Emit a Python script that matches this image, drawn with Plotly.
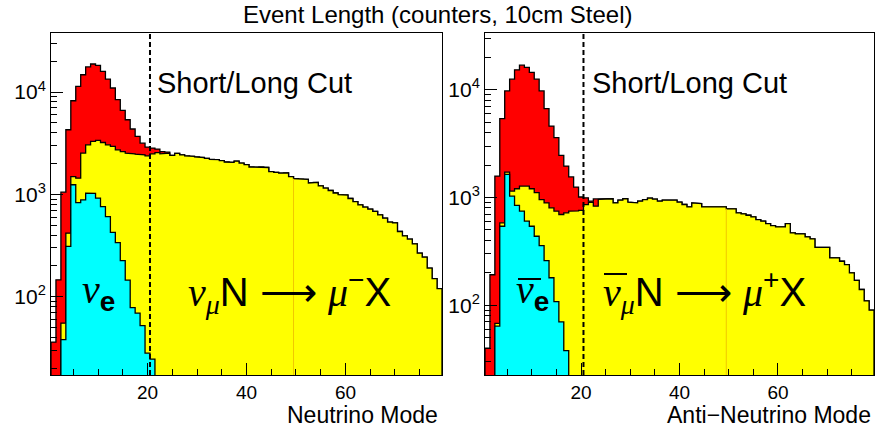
import plotly.graph_objects as go

# ---------------- data ----------------
bins = list(range(1, 80))  # event length in counters (bin centres)

# Neutrino mode
nu_total = [36, 146, 1050, 4280, 8220, 11350, 14760, 17600, 18800, 18200,
            15900, 13400, 10950, 8410, 6610, 5360, 4350, 3680, 3160, 2900,
            2830, 2770, 2620, 2580, 2400, 2510, 2430, 2380, 2350, 2320,
            2290, 2250, 2200, 2180, 2140, 2070, 2050, 2110, 2020, 1950,
            1850, 1840, 1850, 1830, 1670, 1640, 1610, 1620, 1490, 1420,
            1410, 1400, 1290, 1310, 1210, 1150, 1090, 1030, 995, 985,
            910, 850, 790, 750, 716, 680, 630, 585, 535, 525,
            433, 393, 365, 328, 266, 243, 190, 150, 120]
nu_numu = [0, 0, 55, 417, 1490, 1440, 2530, 3050, 3290, 3370,
           3210, 3050, 2940, 2725, 2620, 2530, 2490, 2470, 2430, 2380,
           2490, 2560, 2490, 2530, 2400, 2510, 2430, 2380, 2350, 2320,
           2290, 2250, 2200, 2180, 2140, 2070, 2050, 2110, 2020, 1950,
           1850, 1840, 1850, 1830, 1670, 1640, 1610, 1620, 1490, 1420,
           1410, 1400, 1290, 1310, 1210, 1150, 1090, 1030, 995, 985,
           910, 850, 790, 750, 716, 680, 630, 585, 535, 525,
           433, 393, 365, 328, 266, 243, 190, 150, 120]
nu_nue = [0, 0, 38, 310, 1240, 830, 884, 1028, 1020, 920,
          760, 606, 425, 338, 225, 145, 78, 69, 52, 28,
          24.5] + [0] * 58

# Anti-neutrino mode
anu_total = [40, 192, 1580, 5400, 9740, 12530, 15290, 16900, 16100, 14450,
             12530, 9740, 6680, 4600, 3590, 2460, 1955, 1550, 1250, 1010,
             993, 925, 970, 973, 973, 973, 891, 944, 973, 904,
             891, 925, 957, 985, 965, 925, 944, 957, 944, 904,
             861, 819, 891, 879, 819, 813, 813, 813, 819, 785,
             785, 721, 705, 684, 661, 624, 603, 573, 549, 534,
             534, 573, 470, 459, 459, 431, 413, 345, 345, 345,
             275, 275, 256, 238, 200, 170, 140, 110, 90]
anu_numu = [0, 0, 68, 582, 1718, 1146, 1205, 1275, 1275, 1205,
            1107, 957, 891, 801, 747, 695, 721, 747, 750, 760,
            860, 900, 830, 960, 973, 973, 891, 944, 973, 904,
            891, 925, 957, 985, 965, 925, 944, 957, 944, 904,
            861, 819, 891, 879, 819, 813, 813, 813, 819, 785,
            785, 721, 705, 684, 661, 624, 603, 573, 549, 534,
            534, 573, 470, 459, 459, 431, 413, 345, 345, 345,
            275, 275, 256, 238, 200, 170, 140, 110, 90]
anu_nue = [0, 0, 64, 541, 1637, 1028, 843, 747, 603, 541,
           437, 358, 260, 180, 108, 70, 38] + [0] * 62

cut_value = 20.5
x_ticks = [20, 40, 60]
x_minor = [5, 10, 15, 25, 30, 35, 45, 50, 55, 65, 70, 75]
y_ticks = [100, 1000, 10000]
y_ticktext = ["10<sup>2</sup>", "10<sup>3</sup>", "10<sup>4</sup>"]
y_minor = [v * m for v in (10, 100, 1000, 10000) for m in range(2, 10)]

RED, YELLOW, CYAN = "#ff0000", "#ffff00", "#00ffff"
FONT = "Liberation Sans, Arial, Helvetica, sans-serif"
FLOOR = 1.0


def step_outline(values):
    xs, ys = [bins[0] - 0.5], [FLOOR]
    for c, v in zip(bins, values):
        y = v if v > 0 else FLOOR
        xs += [c - 0.5, c + 0.5]
        ys += [y, y]
    xs.append(bins[-1] + 0.5)
    ys.append(FLOOR)
    return xs, ys


fig = go.Figure()
panels = [
    ("x", "y", nu_total, nu_numu, nu_nue),
    ("x2", "y2", anu_total, anu_numu, anu_nue),
]
for xa, ya, tot, numu, nue in panels:
    for vals, col in ((tot, RED), (numu, YELLOW), (nue, CYAN)):
        xs, ys = step_outline(vals)
        fig.add_trace(go.Scatter(
            x=xs, y=ys, xaxis=xa, yaxis=ya, mode="lines",
            fill="toself", fillcolor=col,
            line=dict(color="black", width=1.3),
            hoverinfo="skip", showlegend=False))
    # faint seam line inside the yellow area
    i50 = bins.index(50)
    fig.add_trace(go.Scatter(
        x=[49.5, 49.5], y=[FLOOR, min(numu[i50 - 1], numu[i50])],
        xaxis=xa, yaxis=ya, mode="lines",
        line=dict(color="#f0c800", width=1), hoverinfo="skip",
        showlegend=False))

W, H = 875, 430
ydom = [(H - 375) / H, (H - 33) / H]


def xaxis_cfg(dom, anchor):
    return dict(domain=dom, range=[0.5, 79.5], showline=True, anchor=anchor,
                linecolor="black", linewidth=1, mirror=True,
                ticks="inside", tickmode="array", tickvals=x_ticks,
                ticklen=12, tickwidth=1, tickcolor="black",
                minor=dict(ticks="inside", ticklen=6, tickmode="array",
                           tickvals=x_minor, tickcolor="black", showgrid=False),
                showgrid=False, zeroline=False, automargin=False,
                tickfont=dict(family=FONT, size=19, color="black"))


def yaxis_cfg(rng, anchor):
    return dict(domain=ydom, type="log", range=rng, showline=True,
                linecolor="black", linewidth=1, mirror=True, anchor=anchor,
                ticks="inside", tickmode="array", tickvals=y_ticks,
                ticktext=y_ticktext, ticklen=12, tickwidth=1,
                tickcolor="black",
                minor=dict(ticks="inside", ticklen=6, tickmode="array",
                           tickvals=y_minor, tickcolor="black", showgrid=False),
                showgrid=False, zeroline=False, automargin=False,
                tickfont=dict(family=FONT, size=21, color="black"))


fig.update_layout(
    width=W, height=H,
    margin=dict(l=0, r=0, t=0, b=0, pad=0),
    paper_bgcolor="white", plot_bgcolor="white",
    xaxis=xaxis_cfg([51 / W, 442 / W], "y"),
    yaxis=yaxis_cfg([1.234, 4.577], "x"),
    xaxis2=xaxis_cfg([485 / W, 874 / W], "y2"),
    yaxis2=yaxis_cfg([1.353, 4.526], "x2"),
)

# cut lines
for xr, yr in (("x", "y"), ("x2", "y2")):
    fig.add_shape(type="line", xref=xr, yref=yr + " domain",
                  x0=cut_value, x1=cut_value, y0=0, y1=1,
                  line=dict(color="black", width=2, dash="5px,3px"))


def label(text, px, py, size, anchor="left", family=FONT):
    return dict(text=text, x=px / W, y=1 - py / H, xanchor=anchor,
                yanchor="middle", xref="paper", yref="paper",
                showarrow=False, font=dict(family=family, size=size, color="black"))


ann = [label("Event Length (counters, 10cm Steel)", 438, 15, 24, "center")]
for x0 in (155, 590):
    ann.append(label("Short/Long Cut", x0, 83, 29))
ann.append(label("Neutrino Mode", 440, 415, 23, "right"))
ann.append(label("Anti\u2212Neutrino Mode", 873, 415, 23, "right"))

GREEK = "font-family:'Liberation Serif', 'DejaVu Serif', serif;font-style:italic"
nu = f"<span style=\"{GREEK}\">ν</span>"
mu = f"<span style=\"{GREEK}\">μ</span>"
for x0 in (80, 514):
    ann.append(label(nu + "<sub><b>e</b></sub>", x0, 292, 40))
ann.append(label(nu + "<sub>" + mu + "</sub>N \u27f6 " + mu + "<sup>\u2212</sup>X", 186, 292, 40))
ann.append(label(nu + "<sub>" + mu + "</sub>N \u27f6 " + mu + "<sup>+</sup>X", 601, 292, 40))
fig.update_layout(annotations=ann)

# overbars for anti-neutrinos
for xa, xb, yy in ((518, 541, 279), (604, 627, 274)):
    fig.add_shape(type="line", xref="paper", yref="paper",
                  x0=xa / W, x1=xb / W, y0=1 - yy / H, y1=1 - yy / H,
                  line=dict(color="black", width=2))

fig.write_html("out.html", config={"displayModeBar": False},
               post_script="document.body.style.margin='0px';document.body.style.overflow='hidden';")
